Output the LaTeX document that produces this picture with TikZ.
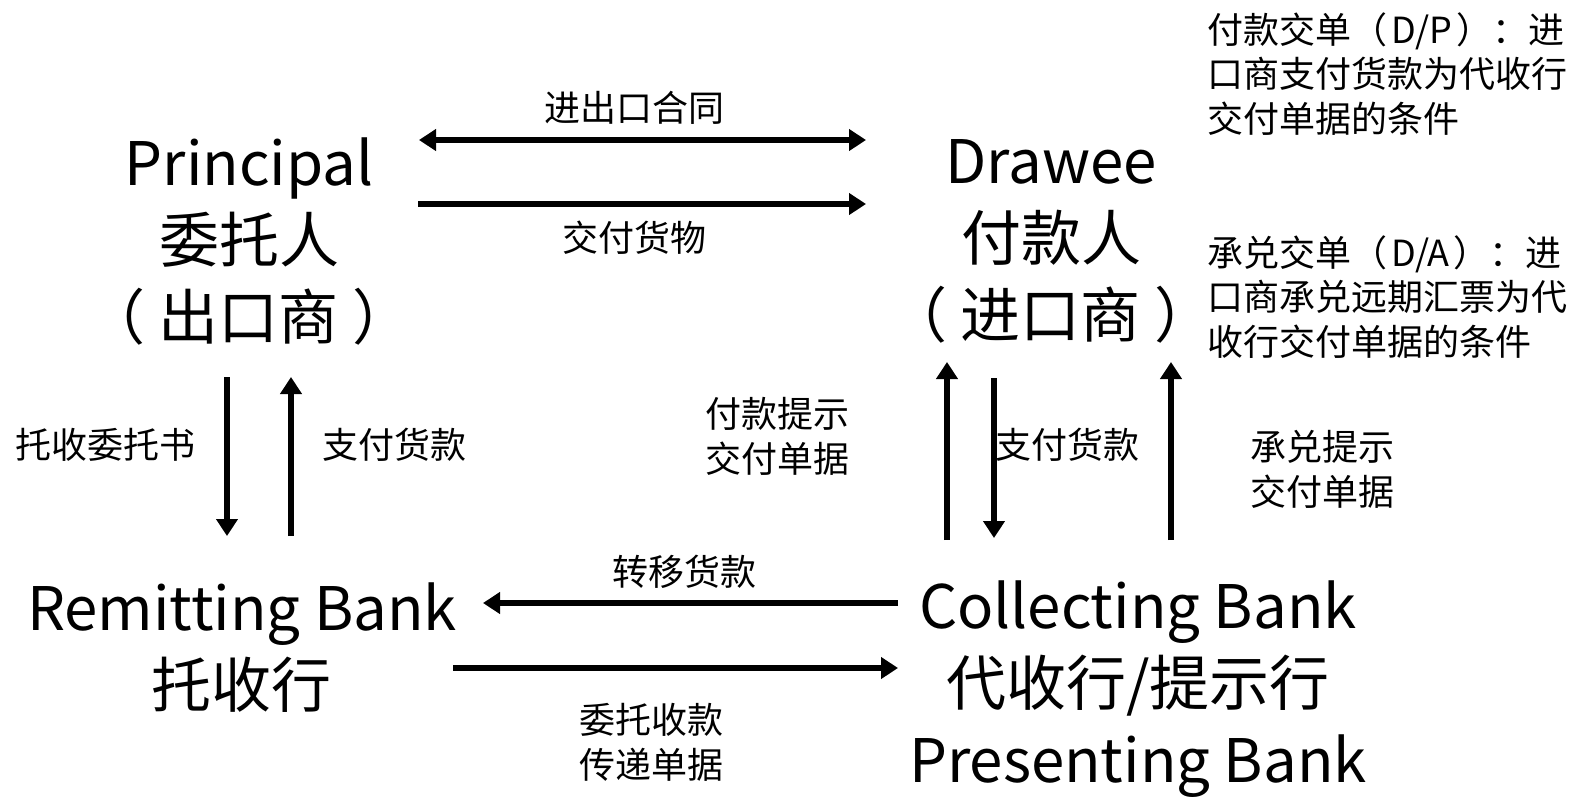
\documentclass[tikz,border=0pt]{standalone}
\usepackage{fontspec}
\setmainfont{Noto Sans CJK SC}
\usetikzlibrary{arrows.meta}
\begin{document}
\begin{tikzpicture}[x=1pt,y=-1pt,
  big/.style={align=center,font=\fontsize{60}{77}\selectfont,inner sep=0pt},
  lab/.style={align=center,font=\fontsize{36}{45}\selectfont,inner sep=0pt},
  note/.style={align=left,anchor=north west,font=\fontsize{36}{44.5}\selectfont,inner sep=0pt},
  flow/.style={line width=5.5pt,-{Triangle[length=17pt,width=21pt]}},
  flowboth/.style={line width=5.5pt,{Triangle[length=17pt,width=21pt]}-{Triangle[length=17pt,width=21pt]}}]
\useasboundingbox (0,0) rectangle (1583,796);

% main parties
\node[big] (principal) at (249,241) {Principal\\委托人\\（\hspace{14pt}出口商\hspace{14pt}）};
\node[big] (drawee) at (1051,241) {Drawee\\付款人\\（\hspace{14pt}进口商\hspace{14pt}）};
\node[big] (remitting) at (242,648) {Remitting Bank\\托收行};
\node[big] (collecting) at (1138,689) {Collecting Bank\\代收行/提示行\\Presenting Bank};

% notes
\node[note] (dp) at (1207,12) {付款交单（\hspace{4pt}D/P\hspace{4pt}）：进\\口商支付货款为代收行\\交付单据的条件};
\node[note] (da) at (1207,235) {承兑交单（\hspace{4pt}D/A\hspace{4pt}）：进\\口商承兑远期汇票为代\\收行交付单据的条件};

% arrow end points
\coordinate (c1a) at (419,140); \coordinate (c1b) at (866,140);
\coordinate (c2a) at (418,204); \coordinate (c2b) at (866,204);
\coordinate (c3a) at (227,377); \coordinate (c3b) at (227,536);
\coordinate (c4a) at (291,536); \coordinate (c4b) at (291,377);
\coordinate (c5a) at (947,540); \coordinate (c5b) at (947,362);
\coordinate (c6a) at (994,378); \coordinate (c6b) at (994,538);
\coordinate (c7a) at (1171,540); \coordinate (c7b) at (1171,362);
\coordinate (c8a) at (898,603); \coordinate (c8b) at (483,603);
\coordinate (c9a) at (453,668); \coordinate (c9b) at (898,668);

\draw[flowboth] (c1a) -- (c1b);
\draw[flow] (c2a) -- (c2b);
\draw[flow] (c3a) -- (c3b);
\draw[flow] (c4a) -- (c4b);
\draw[flow] (c5a) -- (c5b);
\draw[flow] (c6a) -- (c6b);
\draw[flow] (c7a) -- (c7b);
\draw[flow] (c8a) -- (c8b);
\draw[flow] (c9a) -- (c9b);

% labels
\node[lab] (l1) at (634,108) {进出口合同};
\node[lab] (l2) at (634,238) {交付货物};
\node[lab] (l3) at (106,445) {托收委托书};
\node[lab] (l4) at (394,445) {支付货款};
\node[lab] (l5) at (777,436) {付款提示\\交付单据};
\node[lab] (l6) at (1067,445) {支付货款};
\node[lab] (l7) at (1322,469) {承兑提示\\交付单据};
\node[lab] (l8) at (684,572) {转移货款};
\node[lab] (l9) at (651,742) {委托收款\\传递单据};
\end{tikzpicture}
\end{document}
